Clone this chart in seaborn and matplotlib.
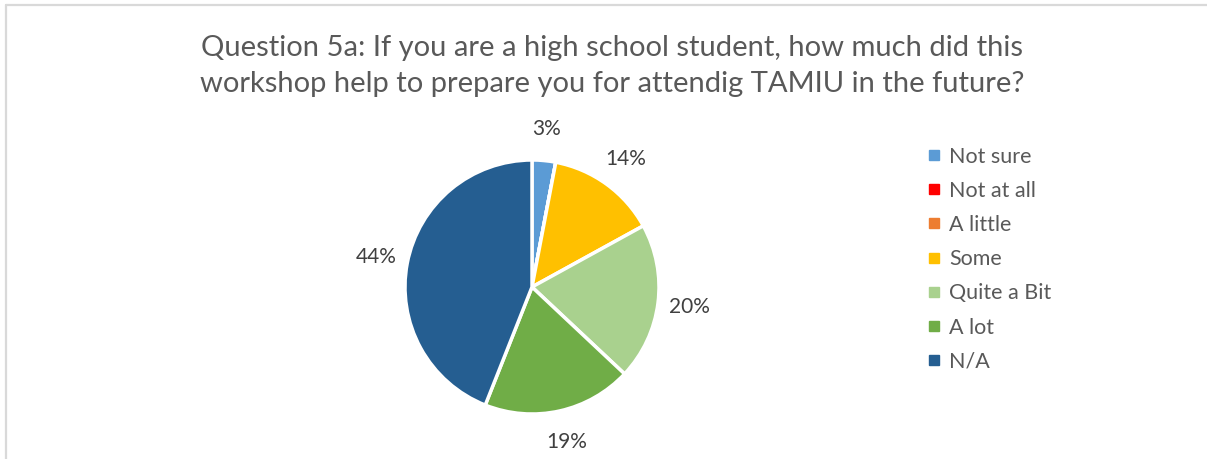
import matplotlib
matplotlib.use("Agg")
import matplotlib.pyplot as plt
from matplotlib.lines import Line2D
import seaborn as sns

# Survey responses (percent of respondents)
categories = ["Not sure", "Not at all", "A little", "Some", "Quite a Bit", "A lot", "N/A"]
percents = [3, 0, 0, 14, 20, 19, 44]
colors = ["#5B9BD5", "#FF0000", "#ED7D31", "#FFC000", "#A9D18E", "#70AD47", "#255E91"]

title = ("Question 5a: If you are a high school student, how much did this\n"
         "workshop help to prepare you for attendig TAMIU in the future?")

sns.set_theme(style="white")
plt.rcParams["font.family"] = ["Lato", "DejaVu Sans"]

W, H = 1207, 459
fig = plt.figure(figsize=(W / 100, H / 100), dpi=100)
fig.patch.set_facecolor("white")

# Chart frame (top and left borders visible)
frame_col = "#D9D9D9"
fig.add_artist(Line2D([6 / W, 1.0], [1 - 5 / H, 1 - 5 / H], color=frame_col, lw=1.6))
fig.add_artist(Line2D([6 / W, 6 / W], [0, 1 - 5 / H], color=frame_col, lw=1.6))

# Pie axes: center and radius in pixels
cx, cy, rad, lim = 532, 287, 127, 1.6
half = lim * rad
ax = fig.add_axes([(cx - half) / W, (H - cy - half) / H, 2 * half / W, 2 * half / H])

wedges, _, autotexts = ax.pie(
    percents,
    colors=colors,
    startangle=90,
    counterclock=False,
    radius=1.0,
    autopct=lambda p: f"{p:.0f}%" if p > 0.5 else "",
    pctdistance=1.25,
    wedgeprops=dict(edgecolor="white", linewidth=2.5),
    textprops=dict(color="#404040", fontsize=15),
)
ax.set_xlim(-lim, lim)
ax.set_ylim(-lim, lim)
ax.set_aspect("equal")
ax.axis("off")

fig.text(612 / W, 1 - 66 / H, title, ha="center", va="center",
         fontsize=21, color="#595959", linespacing=1.45)

handles = [Line2D([], [], marker="s", linestyle="none", markersize=7,
                  markerfacecolor=c, markeredgecolor=c) for c in colors]
leg = fig.legend(handles, categories, loc="upper left",
                 bbox_to_anchor=(918 / W, 1 - 138 / H), frameon=False,
                 fontsize=15.5, labelspacing=0.66, handlelength=0.7,
                 handletextpad=0.35, borderaxespad=0)
for t in leg.get_texts():
    t.set_color("#595959")

fig.savefig("out.png", dpi=100, facecolor="white")
